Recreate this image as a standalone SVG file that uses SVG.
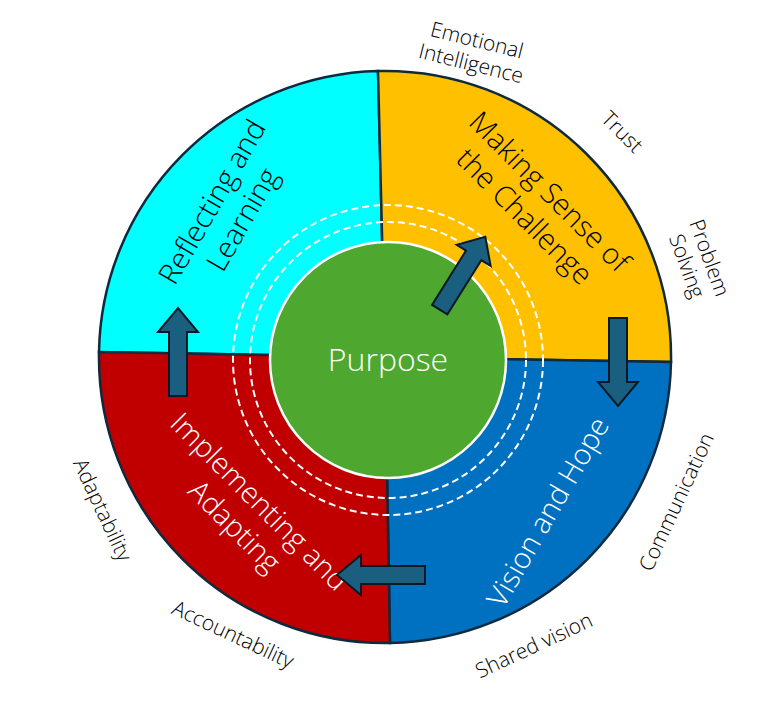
<svg xmlns="http://www.w3.org/2000/svg" width="782" height="707" viewBox="0 0 782 707">
<style>
.seg{stroke:#0f2a3d;stroke-width:2.5}
.t{font-family:"Open Sans","Liberation Sans",sans-serif;font-weight:300;text-anchor:middle}
.lab{font-size:29px}
.out{font-size:21px;fill:#000}
.arr{fill:#1b5f80;stroke:#0a1a24;stroke-width:2}
.dash{fill:none;stroke:#fff;stroke-width:2;stroke-dasharray:7 4}
</style>
<rect width="782" height="707" fill="#fff"/>
<g id="segments">
<path class="seg" fill="#00ffff" d="M385,357 L99,352 A286,286 0 0 1 378,71 Z"/>
<path class="seg" fill="#ffc000" d="M385,357 L378,71 A286,286 0 0 1 671,362 Z"/>
<path class="seg" fill="#0070c0" d="M385,357 L671,362 A286,286 0 0 1 390,643 Z"/>
<path class="seg" fill="#c00000" d="M385,357 L390,643 A286,286 0 0 1 99,352 Z"/>
</g>
<g id="rings">
<circle class="dash" cx="388" cy="360" r="138"/>
<circle class="dash" cx="388" cy="360" r="155"/>
</g>
<g id="purpose">
<circle cx="388" cy="360" r="118" fill="#4ea72e" stroke="#fff" stroke-width="2.5"/>
<text class="t" x="388" y="371" font-size="32" fill="#fff">Purpose</text>
</g>
<g id="reflecting"><text class="t lab" fill="#000" transform="translate(226,210) rotate(-60)"><tspan x="0" y="-6">Reflecting and</tspan><tspan x="0" y="29">Learning</tspan></text></g>
<g id="making"><text class="t lab" fill="#000" transform="translate(538,203) rotate(45)"><tspan x="0" y="-6">Making Sense of</tspan><tspan x="0" y="29">the Challenge</tspan></text></g>
<g id="vision"><text class="t lab" fill="#fff" transform="translate(548,512) rotate(-60)"><tspan x="0" y="10">Vision and Hope</tspan></text></g>
<g id="implementing"><text class="t lab" fill="#fff" transform="translate(248,513) rotate(45)"><tspan x="0" y="-6">Implementing and</tspan><tspan x="0" y="29">Adapting</tspan></text></g>
<g id="connectors">
<path class="arr" transform="translate(462,274) rotate(32)" d="M-9,42 L-9,-22 L-20,-22 L0,-44 L20,-22 L9,-22 L9,42 Z"/>
<path class="arr" transform="translate(618,362) rotate(180)" d="M-9,44 L-9,-20 L-20,-20 L0,-44 L20,-20 L9,-20 L9,44 Z"/>
<path class="arr" transform="translate(381,575) rotate(-90)" d="M-9,44 L-9,-20 L-20,-20 L0,-44 L20,-20 L9,-20 L9,44 Z"/>
<path class="arr" transform="translate(178,352) rotate(0)" d="M-9,44 L-9,-20 L-20,-20 L0,-44 L20,-20 L9,-20 L9,44 Z"/>
</g>
<g id="labels">
<text class="t out" transform="translate(474,52) rotate(14)"><tspan x="0" y="-5">Emotional</tspan><tspan x="0" y="19">Intelligence</tspan></text>
<text class="t out" transform="translate(617,137) rotate(45)">Trust</text>
<text class="t out" transform="translate(698,262) rotate(70)"><tspan x="0" y="-5">Problem</tspan><tspan x="0" y="19">Solving</tspan></text>
<text class="t out" transform="translate(683,505) rotate(-65)">Communication</text>
<text class="t out" transform="translate(537,652) rotate(-25)">Shared vision</text>
<text class="t out" transform="translate(230,641) rotate(25)">Accountability</text>
<text class="t out" transform="translate(96,513) rotate(65)">Adaptability</text>
</g>
</svg>
